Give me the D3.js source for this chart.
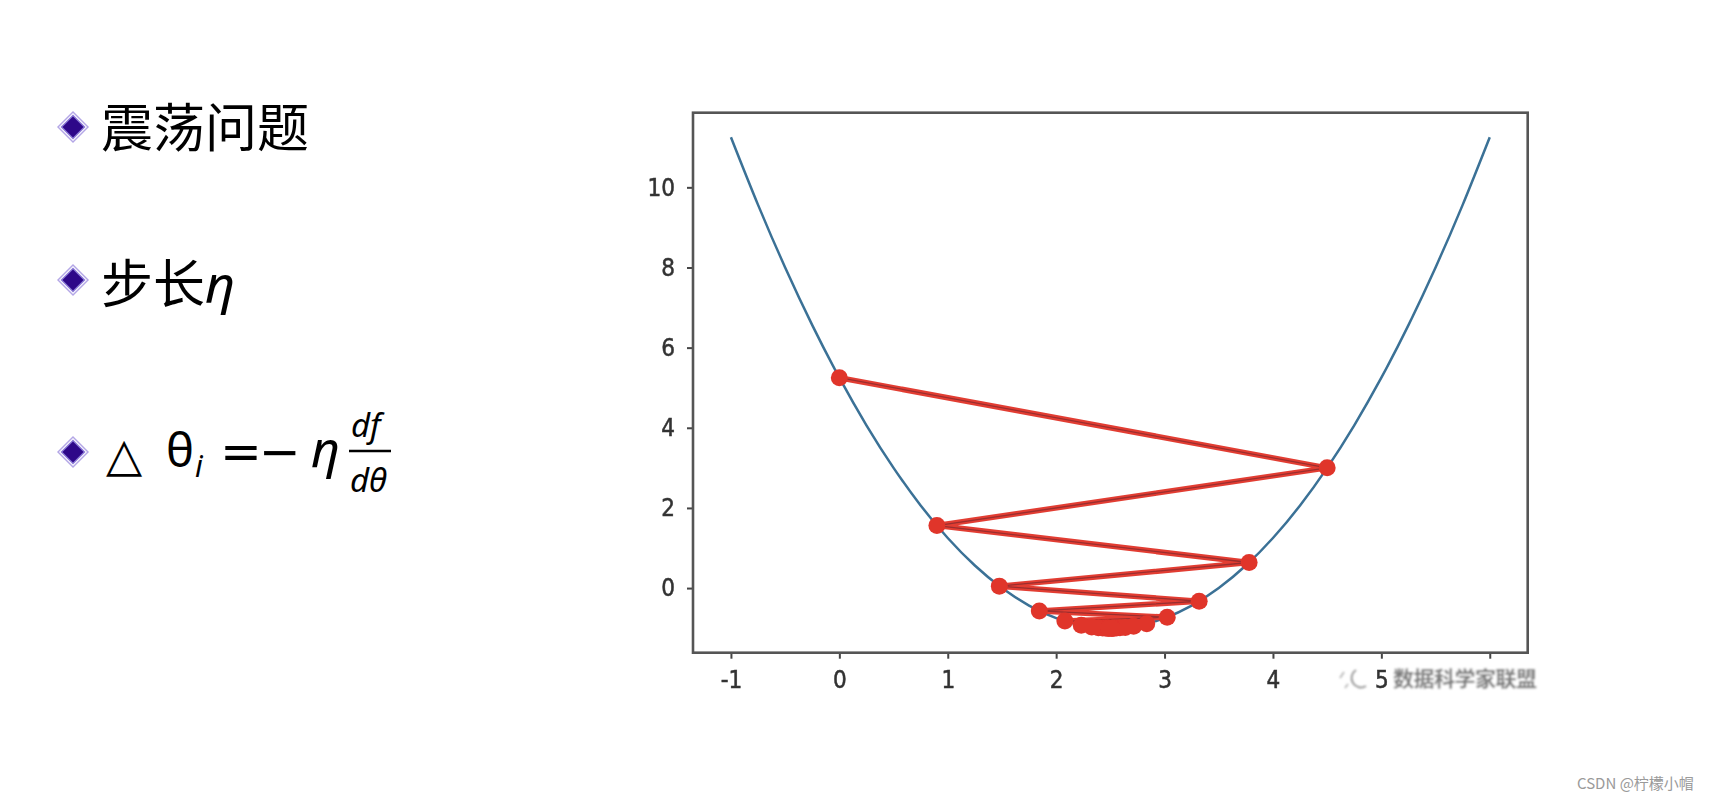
<!DOCTYPE html>
<html>
<head>
<meta charset="utf-8">
<script src="https://cdn.jsdelivr.net/npm/d3@7"></script>
<style>
  html, body { margin: 0; padding: 0; background: #fff; }
  svg { display: block; }
</style>
</head>
<body>
<svg id="chart" width="1728" height="802"></svg>
<script>
// ---- data ----
const curveX = [-1, -0.75, -0.5, -0.25, 0, 0.25, 0.5, 0.75, 1, 1.25, 1.5, 1.75, 2, 2.25, 2.5,
                2.75, 3, 3.25, 3.5, 3.75, 4, 4.25, 4.5, 4.75, 5, 5.25, 5.5, 5.75, 6];
const curveY = [11.25, 9.5625, 8, 6.5625, 5.25, 4.0625, 3, 2.0625, 1.25, 0.5625, 0, -0.4375, -0.75, -0.9375, -1,
                -0.9375, -0.75, -0.4375, 0, 0.5625, 1.25, 2.0625, 3, 4.0625, 5.25, 6.5625, 8, 9.5625, 11.25];
const thetaHistory = [0, 4.5, 0.9, 3.78, 1.476, 3.3192, 1.8446, 3.0243, 2.0806, 2.8355, 2.2316, 2.7147,
                      2.3282, 2.6374, 2.3901, 2.5880, 2.4296, 2.5563, 2.4550, 2.5360, 2.4712, 2.5231,
                      2.4816, 2.5148, 2.4882, 2.5094];
const jHistory = [5.25, 3.0, 1.56, 0.6384, 0.0486, -0.3289, -0.5705, -0.7251, -0.8241, -0.8874, -0.9279, -0.9539,
                  -0.9705, -0.9811, -0.9879, -0.9923, -0.9950, -0.9968, -0.9980, -0.9987, -0.9992, -0.9995,
                  -0.9997, -0.9998, -0.9999, -0.9999];
const xTicks = [-1, 0, 1, 2, 3, 4, 5, 6];
const xTickLabels = ["-1", "0", "1", "2", "3", "4", "5", ""];   // "6" is hidden under the watermark
const yTicks = [0, 2, 4, 6, 8, 10];
const yTickLabels = ["0", "2", "4", "6", "8", "10"];
const bullets = ["震荡问题", "步长"];
const watermark = "数据科学家联盟";
const credit = "CSDN @柠檬小帽";

const svg = d3.select("#chart");

// ---- left bullet text ----
function diamond(cx, cy) {
  const g = svg.append("g").attr("transform", `translate(${cx},${cy})`);
  const d = s => `M0,${-s}L${s},0L0,${s}L${-s},0Z`;
  g.append("path").attr("d", d(16)).attr("fill", "#b3a6e6");
  g.append("path").attr("d", d(14)).attr("fill", "#ffffff");
  g.append("path").attr("d", d(12.5)).attr("fill", "#8a78d6");
  g.append("path").attr("d", d(10.5)).attr("fill", "#2e0889");
}
diamond(73, 127);
diamond(73, 280);
diamond(73, 452);

const cjk = "'Noto Sans CJK SC', 'Noto Sans', sans-serif";
svg.append("text").attr("x", 101).attr("y", 147).attr("font-family", cjk)
  .attr("font-size", 52).attr("fill", "#000").text(bullets[0]);
const l2 = svg.append("text").attr("x", 101).attr("y", 303).attr("font-family", cjk)
  .attr("font-size", 52).attr("fill", "#000");
l2.append("tspan").text(bullets[1]);
l2.append("tspan").attr("font-family", "'Noto Sans', sans-serif").attr("font-style", "italic").text("η");

// formula line
const f = svg.append("g").attr("font-family", "'Noto Sans', 'DejaVu Sans', sans-serif").attr("fill", "#000");
f.append("text").attr("x", 106).attr("y", 471).attr("font-family", "'DejaVu Sans', sans-serif")
  .attr("font-size", 47).text("△");
f.append("text").attr("x", 166).attr("y", 467).attr("font-size", 47).text("θ");
f.append("text").attr("x", 195).attr("y", 477).attr("font-size", 30).attr("font-style", "italic").text("i");
f.append("text").attr("x", 220).attr("y", 469).attr("font-family", "'DejaVu Sans', sans-serif")
  .attr("font-size", 50).text("=");
f.append("text").attr("x", 259).attr("y", 469).attr("font-family", "'DejaVu Sans', sans-serif")
  .attr("font-size", 50).text("−");
f.append("text").attr("x", 311).attr("y", 467).attr("font-size", 50).attr("font-style", "italic").text("η");
f.append("text").attr("x", 351).attr("y", 437).attr("font-size", 33).attr("font-style", "italic").text("df");
f.append("line").attr("x1", 349).attr("x2", 391).attr("y1", 451).attr("y2", 451)
  .attr("stroke", "#000").attr("stroke-width", 2.5);
f.append("text").attr("x", 350).attr("y", 492).attr("font-size", 33).attr("font-style", "italic").text("dθ");

// ---- chart ----
const pLeft = 693, pRight = 1527.7, pTop = 112.7, pBottom = 652.7;
const x = d3.scaleLinear().domain([-1.35, 6.35]).range([pLeft, pRight]);
const y = d3.scaleLinear().domain([-1.6125, 11.8625]).range([pBottom, pTop]);

const defs = svg.append("defs");
defs.append("filter").attr("id", "soft").append("feGaussianBlur").attr("stdDeviation", 0.6);
defs.append("filter").attr("id", "soft2").append("feGaussianBlur").attr("stdDeviation", 0.9);

const chart = svg.append("g").attr("filter", "url(#soft)");

const tickFont = "'DejaVu Sans Condensed', 'DejaVu Sans', sans-serif";

const xAxis = chart.append("g").attr("transform", `translate(0,${pBottom})`)
  .call(d3.axisBottom(x).tickValues(xTicks).tickSize(6).tickPadding(12)
    .tickFormat((d, i) => xTickLabels[i]));
const yAxis = chart.append("g").attr("transform", `translate(${pLeft},0)`)
  .call(d3.axisLeft(y).tickValues(yTicks).tickSize(6).tickPadding(12)
    .tickFormat((d, i) => yTickLabels[i]));
[xAxis, yAxis].forEach(a => {
  a.select(".domain").remove();
  a.selectAll(".tick line").attr("stroke", "#444").attr("stroke-width", 2);
  a.selectAll(".tick text").attr("font-family", tickFont).attr("font-size", 24)
    .attr("font-stretch", "condensed")
    .attr("fill", "#333").attr("stroke", "#333").attr("stroke-width", 0.5);
});

// curve
const curvePts = curveX.map((v, i) => [v, curveY[i]]);
chart.append("path").datum(curvePts)
  .attr("d", d3.line().x(d => x(d[0])).y(d => y(d[1])).curve(d3.curveNatural))
  .attr("fill", "none").attr("stroke", "#3a7196").attr("stroke-width", 2.5);

// descent path
const pts = thetaHistory.map((v, i) => [v, jHistory[i]]);
const line = d3.line().x(d => x(d[0])).y(d => y(d[1]));
chart.append("path").datum(pts).attr("d", line)
  .attr("fill", "none").attr("stroke", "#e23d33").attr("stroke-width", 5.5).attr("stroke-linejoin", "round");
chart.append("path").datum(pts).attr("d", line)
  .attr("fill", "none").attr("stroke", "#9a2e2e").attr("stroke-width", 1.3).attr("stroke-linejoin", "round");
chart.append("g").selectAll("circle").data(pts).join("circle")
  .attr("cx", d => x(d[0])).attr("cy", d => y(d[1])).attr("r", 8.5)
  .attr("fill", "#e0352c");

// frame
chart.append("rect").attr("x", pLeft).attr("y", pTop).attr("width", pRight - pLeft).attr("height", pBottom - pTop)
  .attr("fill", "none").attr("stroke", "#555").attr("stroke-width", 2.6);

// watermark inside chart area
const wm = svg.append("g").attr("filter", "url(#soft2)");
wm.append("rect").attr("x", 1392).attr("y", 662).attr("width", 153).attr("height", 32).attr("fill", "#fff").attr("opacity", 0.92);
wm.append("path").attr("d", "M1356,670 a9,9 0 1,0 10,16").attr("fill", "none").attr("stroke", "#9a9a9a").attr("stroke-width", 2);
wm.append("path").attr("d", "M1344,672 l-4,6 M1348,684 l-3,4").attr("fill", "none").attr("stroke", "#bbb").attr("stroke-width", 2);
wm.append("text").attr("x", 1393).attr("y", 686).attr("font-family", cjk).attr("font-size", 21)
  .attr("fill", "#7a7a7a").attr("font-weight", "bold").attr("letter-spacing", -0.5).text(watermark);

// page credit
svg.append("text").attr("x", 1577).attr("y", 789).attr("font-family", cjk).attr("font-size", 15)
  .attr("fill", "#9a9a9a").text(credit);
</script>
</body>
</html>
